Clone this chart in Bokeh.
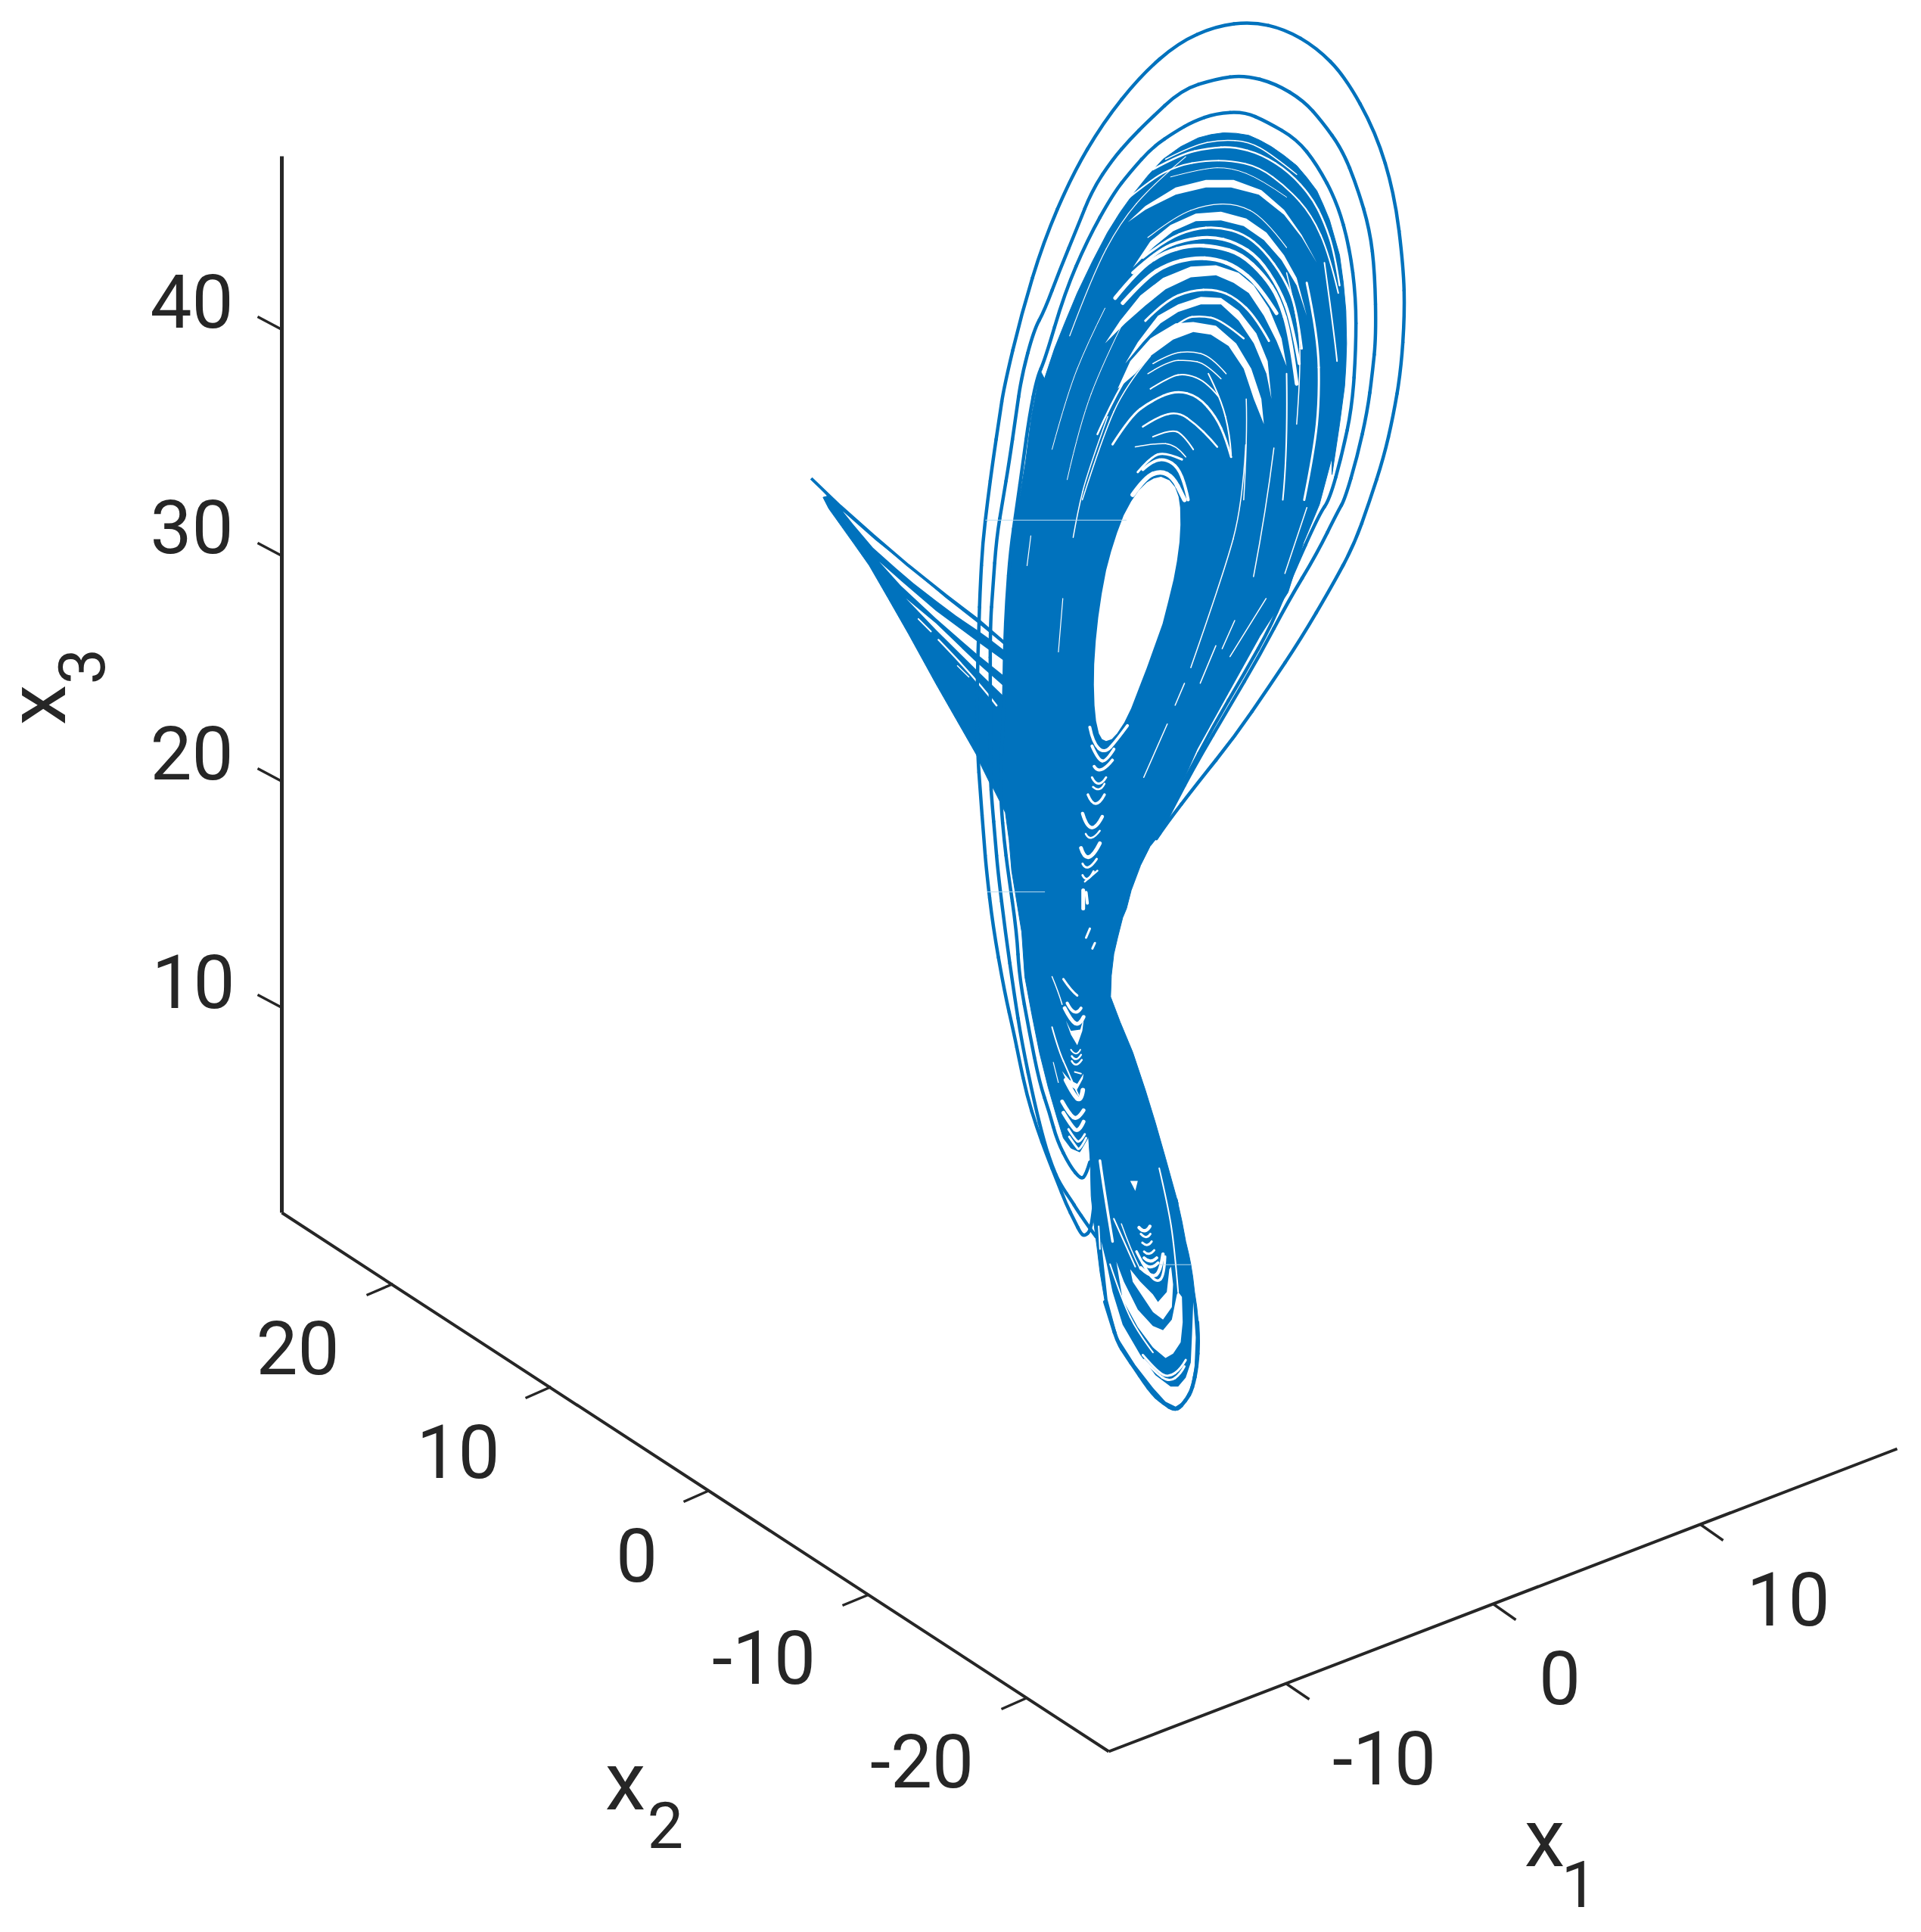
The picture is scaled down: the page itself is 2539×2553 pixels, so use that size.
from bokeh.plotting import figure
from bokeh.models import Range1d, ColumnDataSource
from bokeh.core.properties import value
from bokeh.embed import file_html
from bokeh.resources import INLINE

BLUE = "#0072BD"
INK = "#262626"

# ---- tick labels ----
z_labels = ["40", "30", "20", "10"]
z_label_x = [253, 253, 253, 255]
z_label_y = [397, 695, 994, 1296]
y_labels = ["20", "10", "0", "-10", "-20"]
y_label_x = [393, 605, 841, 1009, 1218]
y_label_y = [1780, 1917, 2054, 2189, 2326]
x_labels = ["-10", "0", "10"]
x_label_x = [1829, 2061, 2363]
x_label_y = [2322, 2216, 2112]

# ---- box axes in projected coordinates ----
axis_z = [(372, 206), (372, 1602)]
axis_y = [(372, 1602), (1465, 2314)]
axis_x = [(1465, 2314), (2507, 1914)]
z_ticks = [(372, 435, 340, 418), (372, 734, 340, 717), (372, 1032, 340, 1015), (372, 1331, 340, 1314)]
y_ticks = [(519, 1696, 484, 1711), (728, 1832, 694, 1847), (937, 1969, 903, 1984), (1147, 2107, 1113, 2121), (1357, 2243, 1323, 2258)]
x_ticks = [(1699, 2224, 1730, 2245), (1973, 2119, 2003, 2140), (2247, 2014, 2277, 2035)]

# ---- trajectory traces, per viewing tile ----
T = (1250, 0, 2.412, 2.412)
M = (1250, 550, 2.412, 2.412)
W = (1050, 610, 3.0, 3.0)
B = (1250, 1150, 3.0, 2.09)
U = (1380, 160, 3.0, 3.0)
N = (1340, 1290, 3.0, 3.0)
L = (1420, 1480, 3.0, 3.0)

outer_loop = [
    (L, [(75,345),(70,390),(60,440),(40,458),(25,450),(0,400)]),
    (N, [(205,900),(170,810),(130,710),(90,600),(50,470),(20,330),(0,230)]),
    (B, [(230,330),(185,150),(160,0)]),
    (W, [(750,1500),(735,1300),(725,1160),(722,900),(730,650),(735,500),(745,320),(765,150),(785,0)]),
    (T, [(170,1327),(185,1230),(240,1000),(310,770),(400,560),(500,390),(620,240),(740,135),(860,82),(975,68),(1080,92),(1180,150),(1270,240),(1370,420),(1430,620),(1458,850),(1462,1000),(1450,1180),(1425,1327)]),
    (M, [(1395,130),(1350,270),(1300,410),(1230,540),(1130,710),(1030,860),(920,1020),(800,1170),(700,1300),(670,1345)]),
]
second_loop = [
    (L, [(85,462),(50,415),(0,340)]),
    (N, [(235,900),(180,820),(150,750),(120,660),(80,500),(30,260),(0,70)]),
    (B, [(235,170),(205,0)]),
    (W, [(795,1500),(782,1350),(775,1250),(775,900),(775,650),(785,500),(800,300),(825,150),(850,0)]),
    (T, [(222,1327),(240,1200),(280,1050)]),
    (U, [(0,750),(60,590),(130,420),(190,270),(270,150),(340,70),(410,0)]),
    (T, [(750,285),(860,250),(950,238),(1050,265),(1140,320)]),
    (U, [(1100,0),(1180,110),(1240,260),(1290,430),(1310,600),(1315,850),(1300,1000),(1280,1150),(1240,1330),(1190,1500)]),
    (M, [(1250,300),(1180,440),(1090,590),(1000,760),(900,930),(800,1100),(720,1250),(680,1330)]),
]
third_loop = [
    (N, [(300,735),(285,785),(265,805),(220,750),(170,650),(140,540),(100,420),(60,220),(20,0)]),
    (B, [(280,170),(245,0)]),
    (W, [(830,1500),(818,1360),(815,1240),(828,1000),(832,730),(840,550),(855,350),(880,180),(905,0)]),
    (T, [(265,1327),(290,1200)]),
    (U, [(0,950),(80,680),(170,470),(270,290),(340,200),(430,100),(520,40),(590,0)]),
    (T, [(860,360),(950,355)]),
    (U, [(880,0),(1000,70),(1080,170),(1160,320),(1210,500),(1235,700),(1235,900),(1220,1130),(1180,1320),(1130,1500)]),
    (M, [(1190,310),(1100,510),(1040,660),(950,820),(850,990),(760,1160),(690,1300)]),
]
fan_top_line = [(W, [(65,65),(180,175),(310,290),(450,410),(600,530),(725,625),(835,720)])]
lower_rim = [
    (L, [(120,720),(145,800),(170,880),(205,935),(240,985),(275,1038),(310,1085),(338,1110),(365,1130),(383,1141),(400,1145),(415,1139),(430,1122),(447,1100),(460,1077),(472,1038),(480,998),(486,950),(489,900),(489,850),(486,800)]),
]

dense_envelope = [
    (U, [(610,65),(660,52),(710,45),(760,47),(810,55),(855,75),(900,100),(950,135),(1000,175),(1040,222),(1080,275),(1105,330),(1130,390),(1150,460),(1170,530),(1185,640),(1195,750),(1198,880),(1195,970),(1190,1050),(1170,1200),(1140,1400)]),
    (M, [(1230,130),(1190,280),(1140,400),(1090,560),(1000,700),(900,880),(800,1060),(730,1220),(690,1320),(650,1370),(620,1430),(590,1510),(575,1568)]),
    (B, [(700,130),(680,185),(665,230),(655,290)]),
    (N, [(385,0),(382,80),(420,180),(470,300),(520,450),(560,580),(600,720),(650,900)]),
    (L, [(405,310),(425,400),(440,480),(452,530),(460,570),(468,620),(475,680),(484,740),(490,800),(493,850),(490,900),(487,950),(480,1000),(472,1040),(460,1080),(447,1103),(430,1125),(415,1143),(400,1150),(383,1146),(365,1135),(338,1115),(310,1090),(275,1043),(240,990),(205,935),(170,880),(145,800),(120,720),(100,600),(88,500),(75,400),(65,300),(62,170),(55,70)]),
    (N, [(295,635),(260,695),(225,680),(195,640),(170,560),(135,440),(100,300),(70,150),(42,0)]),
    (B, [(300,170),(260,0)]),
    (W, [(850,1500),(835,1390),(818,1355),(790,1300),(772,1270),(740,1205),(720,1160),(640,1020),(560,880),(450,680),(370,540),(295,410),(235,325),(160,220),(135,185),(112,140),(130,135),(65,65),(180,175),(310,290),(450,410),(600,530),(725,625),(835,720),(840,550),(860,350),(885,180),(915,0)]),
    (T, [(272,1327),(300,1180)]),
    (U, [(0,1020),(40,900),(80,800),(130,680),(190,555),(250,440),(300,360),(350,290),(410,215),(470,150),(540,100)]),
]

hole_edge = [
    (M, [(685,192),(712,203),(730,225),(741,255),(746,290),(747,345),(744,400),(736,460),(725,520),(708,590),(690,660),(665,730),(640,800),(615,865),(590,930),(568,975),(545,1010),(528,1028),(510,1034),(497,1028),(487,1010),(478,970),(473,920),(471,855),(472,790),(477,715),(485,640),(496,565),(510,490),(526,430),(545,370),(566,315),(590,270),(614,235),(640,210),(662,197)]),
]

# white polygons: the wider gaps between bundles, each tapering to a tip
white_patches = [
    [(W, [(190,195),(320,310),(470,430),(600,540),(722,635),(835,728),(835,750),(770,700),(722,665),(640,610),(560,550),(470,480),(400,420),(310,340),(230,245)])],
    [(W, [(335,395),(420,470),(560,590),(722,710),(832,790),(832,850),(720,760),(560,620),(420,490)])],
    [(W, [(440,540),(560,640),(716,790),(830,890),(830,930),(716,820),(560,665)])],
    [(U, [(330,400),(400,335),(520,262),(640,232),(750,232),(860,272),(950,350),(1020,450),(1080,560),(1020,460),(950,370),(850,290),(740,262),(640,262),(520,290),(400,350)])],
    [(U, [(350,580),(420,475),(500,410),(600,365),(700,358),(800,385),(880,440),(950,530),(1000,620),(1040,770),(1000,650),(940,550),(870,470),(790,415),(700,392),(600,395),(510,435),(430,500)])],
    [(U, [(240,880),(300,790),(380,690),(470,620),(580,575),(680,570),(770,600),(830,650),(890,740),(940,860),(960,970),(920,870),(870,770),(810,680),(750,640),(680,610),(580,618),(480,665),(400,730),(320,800)])],
    [(U, [(320,960),(370,875),(450,770),(530,725),(620,695),(700,700),(770,750),(840,840),(885,950),(900,1100),(880,1000),(830,880),(770,790),(700,725),(620,725),(530,755),(460,800),(390,875)])],
    [(U, [(290,1060),(340,950),(420,860),(520,800),(590,795),(680,810),(760,880),(820,980),(860,1100),(870,1200),(830,1100),(790,980),(730,890),(660,845),(590,835),(510,865),(420,930),(360,1000)])],
    [(N, [(205,175),(225,215),(262,210),(277,160),(270,215),(250,272),(225,230)])],
    [(N, [(190,375),(220,410),(250,425),(275,385),(272,405),(248,450),(215,430)])],
    [(L, [(105,480),(130,710),(170,860),(240,970),(310,1060),(360,1115),(400,1135),(430,1115),(460,1060),(475,980),(480,860),(470,720),(465,850),(460,960),(440,1020),(410,1055),(380,1055),(320,1010),(260,930),(190,810),(150,680),(125,560)])],
    [(L, [(165,560),(195,640),(250,750),(310,815),(350,832),(385,790),(405,690),(410,680),(425,700),(428,800),(420,880),(390,925),(360,942),(310,900),(250,820),(190,710)])],
    [(L, [(220,590),(260,640),(310,690),(330,720),(365,680),(375,590),(382,580),(390,650),(385,740),(350,790),(310,760),(270,700),(230,640)])],
    [(L, [(220,240),(250,240),(240,280)])],
]

# white strokes: (tile, width, points)
arc_gaps = [
    (U, 1.5, [(480,150),(590,95),(700,72),(810,80),(900,130),(1000,210)]),
    (U, 2.5, [(430,190),(540,130),(650,105),(750,100),(860,130),(970,200),(1060,300),(1110,400),(1150,520),(1170,650)]),
    (U, 2, [(290,340),(420,230),(530,175),(640,155),(740,155),(850,180),(960,260),(1060,370),(1130,530),(1165,680)]),
    (U, 1, [(500,220),(630,185),(740,182),(860,230),(960,300)]),
    (U, 1.2, [(410,460),(520,375),(640,330),(760,325),(870,380),(960,500)]),
    (U, 3, [(390,540),(480,470),(590,425),(690,418),(790,445),(870,510),(950,620),(1000,740),(1020,900)]),
    (U, 4, [(350,600),(450,510),(550,470),(660,455),(760,480),(850,540),(930,660),(980,790),(1010,960)]),
    (U, 5, [(280,700),(370,590),(470,520),(580,490),(680,495),(780,525),(870,610),(930,700),(975,850),(1000,1040)]),
    (U, 5, [(310,720),(400,620),(490,565),(590,540),(680,545),(760,575),(850,650),(920,760)]),
    (U, 3, [(400,790),(480,710),(580,670),(680,665),(760,700),(840,780),(890,870)]),
    (U, 2.5, [(460,860),(550,780),(620,770),(700,785),(790,860)]),
    (U, 2.5, [(210,1240),(290,1060),(360,960)]),
    (U, 1.5, [(430,960),(500,920),(580,910),(660,930),(720,1000)]),
    (U, 1.5, [(410,1000),(490,950),(570,945),(640,960),(700,1020)]),
    (U, 2, [(420,1060),(500,1010),(560,1000),(640,1030),(690,1090)]),
    (U, 3, [(270,1280),(340,1170),(420,1110),(520,1065),(610,1090),(680,1170),(720,1260),(740,1330)]),
    (U, 2.5, [(390,1210),(450,1170),(530,1150),(600,1200),(660,1260),(685,1290)]),
    (U, 2, [(430,1250),(500,1220),(550,1240),(590,1300)]),
    (U, 1.5, [(360,1290),(440,1275),(520,1280),(560,1330)]),
    (U, 3, [(370,1390),(420,1330),(480,1310),(545,1340)]),
    (U, 4, [(390,1380),(430,1345),(480,1338),(530,1370),(560,1450),(570,1500)]),
    (U, 6, [(350,1480),(400,1410),(460,1385),(510,1410),(545,1480),(555,1500)]),
    (U, 1.5, [(150,1500),(230,1250),(320,1050),(420,930)]),
    (U, 1, [(90,1420),(140,1200),(230,960),(330,760)]),
    (U, 1, [(30,1300),(90,1080),(170,880),(240,740)]),
    (U, 1.2, [(100,850),(190,610),(300,400),(430,250),(560,140)]),
    (U, 2, [(740,1320),(735,1240),(700,1100),(650,1000)]),
    (U, 1.5, [(800,1100),(805,1250),(790,1500)]),
    (U, 2, [(960,1000),(965,1300),(945,1500)]),
    (U, 3, [(1040,640),(1085,850),(1090,1100),(1070,1300),(1030,1500)]),
    (U, 2, [(1110,560),(1150,850),(1160,950)]),
    (U, 1.5, [(960,600),(1010,800),(1015,1000),(1000,1200)]),
    (M, 1.5, [(955,90),(945,280),(885,500),(780,800)]),
    (M, 1.5, [(1045,100),(1020,300),(980,510)]),
    (M, 1.5, [(1150,290),(1080,500)]),
    (M, 1.5, [(1020,580),(905,765)]),
    (M, 1.5, [(920,650),(880,740)]),
    (M, 1.5, [(860,730),(810,850)]),
    (M, 1.5, [(760,850),(730,920)]),
    (M, 1.5, [(705,980),(630,1150)]),
    (M, 1.5, [(515,0),(450,180),(420,300),(405,385)]),
    (M, 1.2, [(270,380),(258,475)]),
    (M, 1.2, [(372,580),(358,750)]),
    (W, 2.5, [(570,705),(720,860),(800,965)]),
    (W, 2, [(490,622),(540,672)]),
    (W, 1.5, [(645,808),(690,852)]),
    (M, 4, [(458,990),(468,1040),(505,1075),(545,1030),(578,985)]),
    (M, 4, [(465,1050),(485,1095),(510,1100),(535,1060)]),
    (M, 4, [(472,1115),(490,1145),(530,1095)]),
    (M, 3, [(465,1150),(485,1190),(510,1150)]),
    (M, 2.5, [(468,1180),(490,1200),(505,1170)]),
    (M, 3.5, [(452,1205),(475,1262),(505,1205)]),
    (M, 4.5, [(435,1265),(460,1350),(498,1275)]),
    (M, 2.5, [(445,1330),(460,1360),(490,1320)]),
    (M, 5, [(430,1375),(450,1440),(490,1360)]),
    (M, 3, [(435,1425),(450,1455),(480,1410)]),
    (M, 3, [(435,1462),(450,1490),(470,1450)]),
    (M, 5, [(437,1510),(437,1568)]),
    (B, 2.5, [(550,30),(600,0)]),
    (B, 4, [(555,60),(560,90)]),
    (B, 3, [(555,185),(570,160)]),
    (B, 3, [(580,215),(590,200)]),
    (N, 1.5, [(150,0),(175,60),(190,110)]),
    (N, 3, [(195,10),(225,55),(250,75)]),
    (N, 4, [(210,105),(240,165),(265,125)]),
    (N, 5, [(200,125),(225,175),(258,195),(275,160)]),
    (N, 2, [(225,290),(245,320),(262,290)]),
    (N, 2.5, [(228,315),(245,342),(265,310)]),
    (N, 2.5, [(228,335),(245,365),(268,330)]),
    (N, 2, [(240,378),(265,385)]),
    (N, 2, [(150,200),(175,290),(215,380),(240,440),(255,470)]),
    (N, 6, [(205,410),(235,470),(265,495),(272,450)]),
    (N, 5, [(190,495),(218,545),(250,570),(275,530)]),
    (N, 5, [(195,540),(225,590),(255,620),(275,575)]),
    (N, 3, [(215,605),(240,645),(260,660),(280,625)]),
    (N, 3, [(218,635),(245,675),(260,690),(285,640)]),
    (N, 1.2, [(155,340),(175,420)]),
    (L, 3.5, [(100,160),(115,270),(150,480)]),
    (L, 2, [(335,190),(370,340),(395,500),(410,680)]),
    (L, 1.5, [(185,410),(220,510),(260,590)]),
    (L, 2, [(155,390),(200,490),(240,580)]),
    (L, 2, [(95,420),(100,510)]),
    (L, 2, [(140,570),(190,720),(250,840),(310,920)]),
    (L, 3, [(270,930),(330,1000),(375,1018),(420,985),(440,950)]),
    (L, 3, [(275,950),(320,1000),(375,1038),(420,1005),(435,975)]),
    (L, 4.5, [(255,425),(280,452),(298,420)]),
    (L, 3, [(262,450),(285,475),(300,450)]),
    (L, 3, [(268,485),(290,505),(305,480)]),
    (L, 3, [(275,520),(295,540),(315,515)]),
    (L, 4, [(275,545),(300,570),(325,545)]),
    (L, 4, [(270,565),(300,597),(330,565)]),
    (L, 4.5, [(262,585),(305,625),(340,600),(350,530)]),
    (L, 3.5, [(245,520),(280,590),(325,645),(355,615),(358,540)]),
]

# pale horizontal slivers that cross the dense region
slivers = [
    (M, [(125,330),(575,330)]),
    (M, [(130,1515),(315,1515)]),
    (L, [(335,572),(460,572)]),
]


def to_xy(pieces):
    xs, ys = [], []
    for (ox, oy, kx, ky), pts in pieces:
        for a, b in pts:
            xs.append(ox + a / kx)
            ys.append(oy + b / ky)
    return xs, ys


def smooth_stroke(fig, xs, ys, color, width):
    """Stroke a traced path with quadratic curves, using each read point as a control point."""
    n = len(xs)
    if n < 3:
        fig.line(xs, ys, line_color=color, line_width=width, line_cap="round")
        return
    mx = [(xs[i] + xs[i + 1]) / 2 for i in range(n - 1)]
    my = [(ys[i] + ys[i + 1]) / 2 for i in range(n - 1)]
    x0 = [xs[0]] + mx[1:n - 2]
    y0 = [ys[0]] + my[1:n - 2]
    x1 = mx[1:n - 2] + [xs[-1]]
    y1 = my[1:n - 2] + [ys[-1]]
    fig.quadratic(x0=x0, y0=y0, x1=x1, y1=y1, cx=xs[1:n - 1], cy=ys[1:n - 1],
                  line_color=color, line_width=width, line_cap="round")


p = figure(width=2523, height=2537, output_backend="svg", toolbar_location=None,
           x_range=Range1d(0, 2523), y_range=Range1d(2537, 0),
           x_axis_type=None, y_axis_type=None, min_border=0,
           outline_line_color=None, background_fill_color="white", border_fill_color="white")
p.grid.visible = False

# attractor
ex, ey = to_xy(dense_envelope)
p.patch(ex, ey, fill_color=BLUE, line_color=BLUE, line_width=1)

for gap in white_patches:
    gx, gy = to_xy(gap)
    p.patch(gx, gy, fill_color="white", line_color=None)

for tile, w, pts in arc_gaps:
    gx, gy = to_xy([(tile, pts)])
    smooth_stroke(p, gx, gy, "white", w)

hx, hy = to_xy(hole_edge)
p.patch(hx, hy, fill_color="white", line_color=None)

for loop in (outer_loop, second_loop, third_loop):
    lx, ly = to_xy(loop)
    smooth_stroke(p, lx, ly, BLUE, 4.5)
lx, ly = to_xy(lower_rim)
smooth_stroke(p, lx, ly, BLUE, 5)
lx, ly = to_xy(fan_top_line)
p.line(lx, ly, line_color=BLUE, line_width=4)

for s in slivers:
    lx, ly = to_xy([s])
    p.line(lx, ly, line_color="#BBDCF0", line_width=1)

# axes
for ax, lw in ((axis_z, 5), (axis_y, 4), (axis_x, 4)):
    p.line([q[0] for q in ax], [q[1] for q in ax], line_color=INK, line_width=lw, line_join="miter")
for ticks in (z_ticks, y_ticks, x_ticks):
    p.segment([t[0] for t in ticks], [t[1] for t in ticks], [t[2] for t in ticks], [t[3] for t in ticks],
              line_color=INK, line_width=3.5)

tick_src = ColumnDataSource(dict(
    x=z_label_x + y_label_x + x_label_x,
    y=z_label_y + y_label_y + x_label_y,
    t=z_labels + y_labels + x_labels))
p.text("x", "y", text="t", source=tick_src, text_font=value("Roboto"), text_font_size=value("98px"),
       text_color=INK, text_align="center", text_baseline="middle")

# axis names
p.text([826], [2353], text=["x"], text_font=value("Roboto"), text_font_size=value("108px"), text_color=INK,
       text_align="center", text_baseline="middle")
p.text([879], [2411], text=["2"], text_font=value("Roboto"), text_font_size=value("85px"), text_color=INK,
       text_align="center", text_baseline="middle")
p.text([2041], [2428], text=["x"], text_font=value("Roboto"), text_font_size=value("108px"), text_color=INK,
       text_align="center", text_baseline="middle")
p.text([2087], [2489], text=["1"], text_font=value("Roboto"), text_font_size=value("85px"), text_color=INK,
       text_align="center", text_baseline="middle")
p.text([48], [931], text=["x"], angle=1.5708, text_font=value("Roboto"), text_font_size=value("108px"), text_color=INK,
       text_align="center", text_baseline="middle")
p.text([107], [880], text=["3"], angle=1.5708, text_font=value("Roboto"), text_font_size=value("85px"), text_color=INK,
       text_align="center", text_baseline="middle")

open("out.html", "w").write(file_html(p, INLINE))
